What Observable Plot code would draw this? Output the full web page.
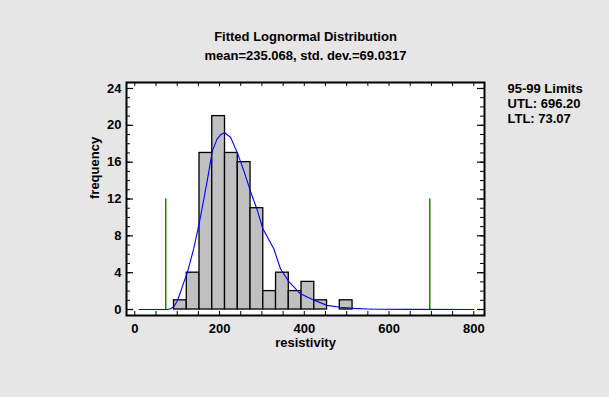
<!DOCTYPE html>
<html><head><meta charset="utf-8">
<script src="https://cdn.jsdelivr.net/npm/d3@7"></script>
<script src="https://cdn.jsdelivr.net/npm/@observablehq/plot@0.6"></script>
<style>
html,body{margin:0;padding:0;background:#e6e6e6;}
#chart svg{display:block;}
</style></head><body><div id="chart"></div>
<script>
const title = "Fitted Lognormal Distribution";
const subtitle = "mean=235.068, std. dev.=69.0317";
const xLabel = "resistivity";
const yLabel = "frequency";
const legendLines = ["95-99 Limits", "UTL: 696.20", "LTL: 73.07"];

// histogram classes (lower / upper bounds) and counts
const binLower = [92.5, 122.6, 152.7, 182.8, 212.9, 243.0, 273.1, 303.2, 333.3, 363.4, 393.5, 423.6, 453.7, 483.8];
const binUpper = [122.6, 152.7, 182.8, 212.9, 243.0, 273.1, 303.2, 333.3, 363.4, 393.5, 423.6, 453.7, 483.8, 513.9];
const counts   = [1, 4, 17, 21, 17, 16, 11, 2, 4, 2, 3, 1, 0, 1];

// fitted curve
const curveX = [10, 60, 76, 84, 92, 100, 108, 116, 124, 139, 153, 163, 171, 183, 194, 203, 212, 226, 243, 257, 274, 289, 302, 328, 344, 364, 391, 423, 454, 485, 517, 550, 580, 650, 800];
const curveY = [0, 0, 0, 0.08, 0.3, 0.9, 1.9, 3.0, 4.0, 6.6, 9.6, 12.0, 14.0, 17.2, 18.5, 19.0, 19.2, 18.7, 16.9, 15.1, 12.7, 10.8, 8.8, 6.6, 4.4, 3.0, 1.7, 1.0, 0.45, 0.25, 0.12, 0.06, 0.03, 0.01, 0];

// tolerance limits (LTL, UTL) and the height of their marker lines
const limits = [73.07, 696.20];
const limitTop = 12;

// ticks
const xTickLabels = [0, 200, 400, 600, 800];
const xTickMarks = [0, 50, 100, 150, 200, 250, 300, 350, 400, 450, 500, 550, 600, 650, 700, 750, 800];
const yTickLabels = [0, 4, 8, 12, 16, 20, 24];
const yTickMarks = [0,1,2,3,4,5,6,7,8,9,10,11,12,13,14,15,16,17,18,19,20,21,22,23,24];

const bins = binLower.map((lo, i) => ({lo, hi: binUpper[i], n: counts[i]})).filter(d => d.n > 0);
const curve = curveX.map((x, i) => ({x, y: curveY[i]}));

const W = 609, H = 397, mL = 126, mR = 125, mT = 82, mB = 82;
const fw = W - mL - mR, fh = H - mT - mB;

const plot = Plot.plot({
  width: W, height: H,
  marginLeft: mL, marginRight: mR, marginTop: mT, marginBottom: mB,
  style: {background: "#e6e6e6", fontFamily: "Arial, 'Liberation Sans', sans-serif", fontSize: "13px", fontWeight: "bold", color: "black"},
  x: {domain: [-19.6, 825.3], ticks: xTickLabels, tickSize: 0, tickPadding: 8, label: null},
  y: {domain: [-0.65, 24.65], ticks: yTickLabels, tickSize: 0, tickPadding: 5, label: null},
  marks: [
    Plot.frame({fill: "white", stroke: "none"}),
    Plot.rectY(bins, {x1: "lo", x2: "hi", y1: 0, y2: "n", fill: "#c0c0c0", stroke: "black", strokeWidth: 1.3}),
    Plot.ruleX(limits, {x: d => d, y1: 0, y2: limitTop, stroke: "#008000", strokeWidth: 1.4}),
    Plot.line(curve, {x: "x", y: "y", stroke: "#0000ff", strokeWidth: 1.1}),
    // inward tick marks
    Plot.tickY(yTickMarks, {y: d => d, insetRight: fw - 4, stroke: "black"}),
    Plot.tickY(yTickLabels, {y: d => d, insetRight: fw - 7, stroke: "black", strokeWidth: 1.2}),
    Plot.tickY(yTickMarks, {y: d => d, insetLeft: fw - 4, stroke: "black"}),
    Plot.tickY(yTickLabels, {y: d => d, insetLeft: fw - 7, stroke: "black", strokeWidth: 1.2}),
    Plot.tickX(xTickMarks, {x: d => d, insetTop: fh - 4, stroke: "black"}),
    Plot.tickX(xTickMarks, {x: d => d, insetBottom: fh - 4, stroke: "black"}),
    Plot.frame({stroke: "black", strokeWidth: 2}),
    // titles
    Plot.text([title], {text: d => d, frameAnchor: "top", dy: -41.5, lineAnchor: "bottom", fontSize: 13, fontWeight: "bold", fill: "black"}),
    Plot.text([subtitle], {text: d => d, frameAnchor: "top", dy: -23, lineAnchor: "bottom", fontSize: 13, fontWeight: "bold", fill: "black"}),
    // axis labels
    Plot.text([xLabel], {text: d => d, frameAnchor: "bottom", dy: 31, fontSize: 13, fontWeight: "bold", fill: "black"}),
    Plot.text([yLabel], {text: d => d, frameAnchor: "left", dx: -32, rotate: -90, fontSize: 13, fontWeight: "bold", fill: "black"}),
    // limits legend
    Plot.text([legendLines.join("\n")], {text: d => d, frameAnchor: "top-right", dx: 23, dy: 0, textAnchor: "start", lineAnchor: "top", lineHeight: 15/13, fontSize: 13, fontWeight: "bold", fill: "black"})
  ]
});
document.getElementById("chart").appendChild(plot);
</script>
</body></html>
